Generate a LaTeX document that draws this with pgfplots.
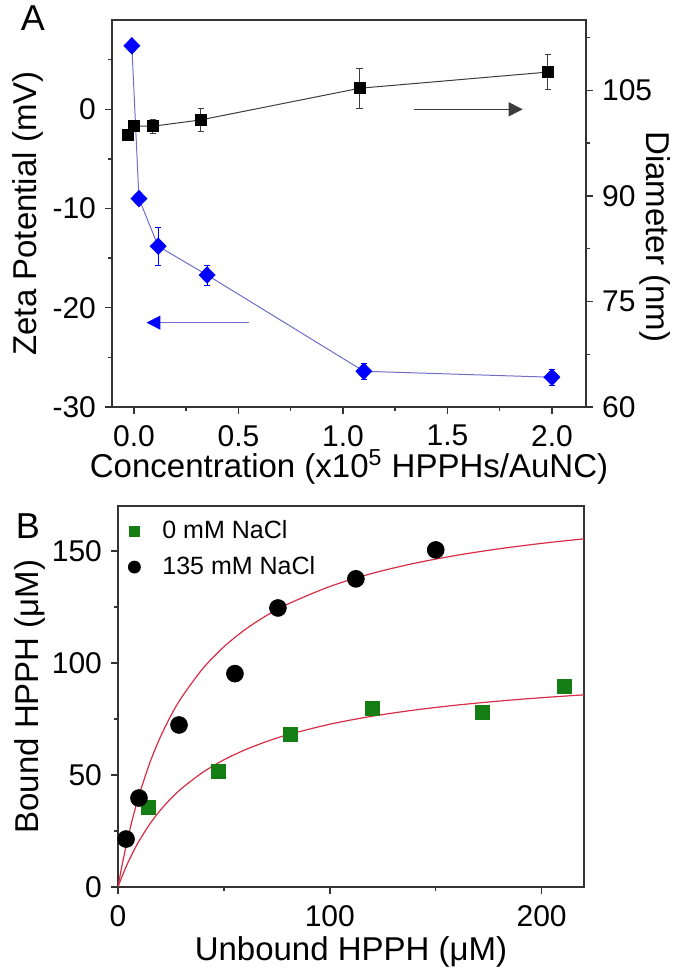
\documentclass[border=0pt]{standalone}
\usepackage{fontspec}
\setmainfont{Liberation Sans}
\usepackage{pgfplots}
\pgfplotsset{compat=1.18}
\usetikzlibrary{arrows.meta}
\definecolor{zblue}{RGB}{0,0,255}
\definecolor{zline}{RGB}{110,110,200}
\definecolor{dgreen}{RGB}{20,125,20}
\definecolor{fitred}{RGB}{215,45,70}
\definecolor{dgray}{RGB}{60,60,60}
\newcommand{\tickfont}{\fontsize{15}{15}\selectfont}
\newcommand{\labfont}{\fontsize{16.5}{16.5}\selectfont}
\begin{document}
\begin{tikzpicture}[x=1pt,y=1pt]
\useasboundingbox (0,0) rectangle (340,486);
\pgfplotsset{
  every axis/.append style={
    scale only axis,
    axis line style={line width=0.9pt, color=black!80},
    tick align=outside,
    major tick length=3.5pt,
    minor tick length=2pt,
    every tick/.style={line width=0.7pt, color=black!80},
    tick label style={font=\tickfont},
    label style={font=\labfont},
  }
}
% ---------------- Panel A, left axis (Zeta potential)
\begin{axis}[
  at={(56pt,282.5pt)}, anchor=south west,
  width=237pt, height=193.5pt,
  xmin=-0.105, xmax=2.163, ymin=-30, ymax=9,
  xtick pos=bottom, ytick pos=left,
  xtick={0,0.5,1,1.5,2}, xticklabels={0.0,0.5,1.0,1.5,2.0},
  minor xtick={0.25,0.75,1.25,1.75},
  ytick={-30,-20,-10,0}, yticklabels={-30,-20,-10,0},
  minor ytick={-25,-15,-5,5},
  xticklabel style={yshift=-2pt},
  yticklabel style={xshift=-1pt},
  xlabel={Concentration (x10\textsuperscript{5} HPPHs/AuNC)},
  ylabel={Zeta Potential (mV)},
  xlabel style={at={(axis description cs:0.5,-0.155)}, anchor=center},
  ylabel style={at={(axis description cs:-0.177,0.5)}, anchor=center},
]
\addplot[color=zline, line width=0.5pt, mark=diamond*,
  mark size=4pt, mark options={fill=zblue, draw=zblue, xscale=1.3},
  error bars/.cd, y dir=both, y explicit,
  error bar style={color=zblue, line width=0.4pt},
  error mark options={rotate=90, mark size=1.6pt, color=zblue}]
  table[x=x, y=y, y error=e] {
x y e
-0.01 6.4 0.2
0.024 -9.0 0.2
0.116 -13.8 1.9
0.35 -16.7 1.0
1.10 -26.4 0.8
2.00 -27.0 0.8
};
\draw[color=dgray, line width=0.6pt, -{Triangle[length=7pt,width=7pt]}]
  (axis cs:1.34,0) -- (axis cs:1.86,0);
\draw[color=zline, line width=0.6pt, -{Triangle[length=7pt,width=7pt,color=zblue,fill=zblue]}]
  (axis cs:0.55,-21.5) -- (axis cs:0.06,-21.5);
\end{axis}
% ---------------- Panel A, right axis (Diameter)
\begin{axis}[
  at={(56pt,282.5pt)}, anchor=south west,
  width=237pt, height=193.5pt,
  xmin=-0.105, xmax=2.163, ymin=60, ymax=115,
  axis x line=none, axis y line*=right,
  ytick={60,75,90,105}, yticklabels={60,75,90,105},
  minor ytick={67.5,82.5,97.5,112.5},
  yticklabel style={xshift=1pt},
  ylabel={Diameter (nm)},
  ylabel style={at={(axis description cs:1.146,0.44)}, anchor=center, rotate=180},
]
\addplot[color=dgray, line width=0.5pt, mark=square*,
  mark size=2.8pt, mark options={fill=black, draw=black},
  error bars/.cd, y dir=both, y explicit,
  error bar style={color=dgray, line width=0.4pt},
  error mark options={rotate=90, mark size=1.6pt, color=dgray}]
  table[x=x, y=y, y error=e] {
x y e
-0.03 98.6 0.5
0.00 99.9 0.5
0.09 99.9 1.0
0.32 100.8 1.6
1.08 105.3 2.8
1.98 107.6 2.5
};
\end{axis}
% ---------------- Panel B
\begin{axis}[
  at={(59pt,42.5pt)}, anchor=south west,
  width=233pt, height=190.5pt,
  xmin=0, xmax=220, ymin=0, ymax=170,
  xtick pos=bottom, ytick pos=left,
  xtick={0,100,200}, xticklabels={0,100,200},
  minor xtick={50,150},
  ytick={0,50,100,150}, yticklabels={0,50,100,150},
  minor ytick={25,75,125},
  xticklabel style={yshift=-2pt},
  yticklabel style={xshift=-1pt},
  xlabel={Unbound HPPH (μM)},
  ylabel={Bound HPPH (μM)},
  xlabel style={at={(axis description cs:0.5,-0.17)}, anchor=center},
  ylabel style={at={(axis description cs:-0.189,0.5)}, anchor=center},
  legend style={at={(axis description cs:0.0,1.0)}, anchor=north west,
    draw=none, fill=none, font=\fontsize{12.5}{12.5}\selectfont,
    row sep=3.5pt, xshift=2pt, yshift=-3pt},
  legend cell align=left,
]
\addplot[only marks, mark=square*, mark size=3.5pt,
  mark options={fill=dgreen, draw=dgreen},
  legend image post style={mark size=2.5pt}] table {
14.2 35.7
47.6 51.8
81.6 68.3
120.3 79.5
172.0 77.7
210.8 89.3
};
\addlegendentry{\hspace{9pt}0 mM NaCl}
\addplot[only marks, mark=*, mark size=4.2pt,
  mark options={fill=black, draw=black},
  legend image post style={mark size=3pt}] table {
3.8 21.4
9.9 39.7
28.8 72.3
55.2 95.2
75.5 124.5
112.3 137.5
150.0 150.4
};
\addlegendentry{\hspace{9pt}135 mM NaCl}
\addplot[forget plot, color=fitred, line width=0.6pt, smooth] coordinates {
(0,0) (1,5.19) (2,10.08) (4,19.09) (6,27.19) (8,34.51) (10,41.15)
(15,55.36) (20,66.92) (25,76.50) (30,84.57) (40,97.41) (50,107.19)
(60,114.87) (70,121.06) (80,126.17) (100,134.08) (120,139.93)
(140,144.44) (160,148.01) (180,150.91) (200,153.32) (220,155.35)
};
\addplot[forget plot, color=fitred, line width=0.6pt, smooth] coordinates {
(0,0) (1,2.53) (2,4.93) (4,9.41) (6,13.48) (8,17.21) (10,20.63)
(15,28.08) (20,34.26) (25,39.48) (30,43.93) (40,51.15) (50,56.75)
(60,61.21) (70,64.86) (80,67.89) (100,72.64) (120,76.20)
(140,78.96) (160,81.17) (180,82.97) (200,84.47) (220,85.74)
};
\end{axis}
% panel letters
\node[font=\fontsize{18}{18}\selectfont] at (16.5,477) {A};
\node[font=\fontsize{18}{18}\selectfont] at (14,223) {B};
\end{tikzpicture}
\end{document}
